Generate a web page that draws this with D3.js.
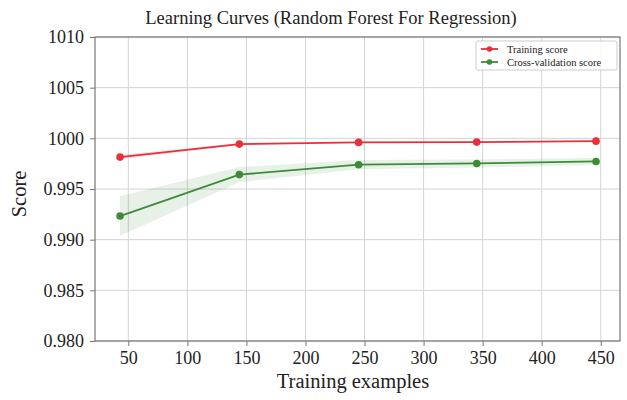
<!DOCTYPE html>
<html><head><meta charset="utf-8">
<script src="https://cdn.jsdelivr.net/npm/d3@7"></script>
<style>body{margin:0;background:#fff}</style>
</head><body>
<svg id="c" width="627" height="400"></svg>
<script>
const trainSizes = [43, 144, 245, 345, 446];
const trainMean = [0.99815, 0.99943, 0.99960, 0.99963, 0.99972];
const trainStd  = [0.00022, 0.00010, 0.00006, 0.00005, 0.00004];
const cvMean = [0.99233, 0.99642, 0.99740, 0.99752, 0.99772];
const cvStd  = [0.00195, 0.00075, 0.00045, 0.00040, 0.00035];
const xTicks = [50, 100, 150, 200, 250, 300, 350, 400, 450];
const yTicks = [0.980, 0.985, 0.990, 0.995, 1.000, 1.005, 1.010];
const yTickLabels = ["0.980", "0.985", "0.990", "0.995", "1000", "1005", "1010"];
const seriesNames = ["Training score", "Cross-validation score"];

const font = "'Liberation Serif', 'DejaVu Serif', serif";
const svg = d3.select("#c");
const L = 95, R = 620, T = 37, B = 341;
const x = d3.scaleLinear().domain([21.8, 466.3]).range([L, R]);
const y = d3.scaleLinear().domain([0.980, 1.010]).range([B, T]);

// gridlines
svg.append("g").selectAll("line").data(xTicks).join("line")
  .attr("x1", d => x(d)).attr("x2", d => x(d)).attr("y1", T).attr("y2", B)
  .attr("stroke", "#d4d4d4").attr("stroke-width", 1);
svg.append("g").selectAll("line").data(yTicks).join("line")
  .attr("y1", d => y(d)).attr("y2", d => y(d)).attr("x1", L).attr("x2", R)
  .attr("stroke", "#d4d4d4").attr("stroke-width", 1);

// bands
const area = (m, s) => d3.area().x((d, i) => x(trainSizes[i]))
  .y0((d, i) => y(m[i] - s[i])).y1((d, i) => y(m[i] + s[i]))(m);
svg.append("path").attr("d", area(trainMean, trainStd)).attr("fill", "#e8303a").attr("fill-opacity", 0.12);
svg.append("path").attr("d", area(cvMean, cvStd)).attr("fill", "#3d8b37").attr("fill-opacity", 0.12);

// frame
svg.append("rect").attr("x", L).attr("y", T).attr("width", R - L).attr("height", B - T)
  .attr("fill", "none").attr("stroke", "#777").attr("stroke-width", 1.2);

// axes
const xAxis = svg.append("g").attr("transform", `translate(0,${B})`)
  .call(d3.axisBottom(x).tickValues(xTicks).tickSize(5).tickPadding(5).tickFormat(d3.format("d")));
const yAxis = svg.append("g").attr("transform", `translate(${L},0)`)
  .call(d3.axisLeft(y).tickValues(yTicks).tickSize(5).tickPadding(6).tickFormat((d, i) => yTickLabels[i]));
[xAxis, yAxis].forEach(a => {
  a.attr("font-family", font).attr("font-size", 18);
  a.select(".domain").remove();
  a.selectAll("line").attr("stroke", "#777");
  a.selectAll("text").attr("fill", "#222");
});

// lines
const line = m => d3.line().x((d, i) => x(trainSizes[i])).y(d => y(d))(m);
const series = [[trainMean, "#e8303a"], [cvMean, "#3d8b37"]];
series.forEach(([m, c]) => {
  svg.append("path").attr("d", line(m)).attr("fill", "none").attr("stroke", c).attr("stroke-width", 1.8);
  svg.append("g").selectAll("circle").data(m).join("circle")
    .attr("cx", (d, i) => x(trainSizes[i])).attr("cy", d => y(d)).attr("r", 3.8).attr("fill", c);
});

// title & labels
svg.append("text").attr("x", 331).attr("y", 24).attr("text-anchor", "middle")
  .attr("font-family", font).attr("font-size", 18.5).attr("fill", "#222")
  .text("Learning Curves (Random Forest For Regression)");
svg.append("text").attr("x", 353).attr("y", 388).attr("text-anchor", "middle")
  .attr("font-family", font).attr("font-size", 20.5).attr("fill", "#222").text("Training examples");
svg.append("text").attr("transform", "translate(26,194) rotate(-90)").attr("text-anchor", "middle")
  .attr("font-family", font).attr("font-size", 20.5).attr("fill", "#222").text("Score");

// legend
const lg = svg.append("g");
lg.append("rect").attr("x", 476).attr("y", 41).attr("width", 141).attr("height", 29).attr("rx", 2)
  .attr("fill", "#fff").attr("fill-opacity", 0.85).attr("stroke", "#ccc");
series.forEach(([m, c], i) => {
  const yy = 49 + i * 13;
  lg.append("line").attr("x1", 481).attr("x2", 498).attr("y1", yy).attr("y2", yy).attr("stroke", c).attr("stroke-width", 1.8);
  lg.append("circle").attr("cx", 489.5).attr("cy", yy).attr("r", 2.8).attr("fill", c);
  lg.append("text").attr("x", 507).attr("y", yy + 3.5).attr("font-family", font).attr("font-size", 10.5)
    .attr("fill", "#222").text(seriesNames[i]);
});
</script>
</body></html>
